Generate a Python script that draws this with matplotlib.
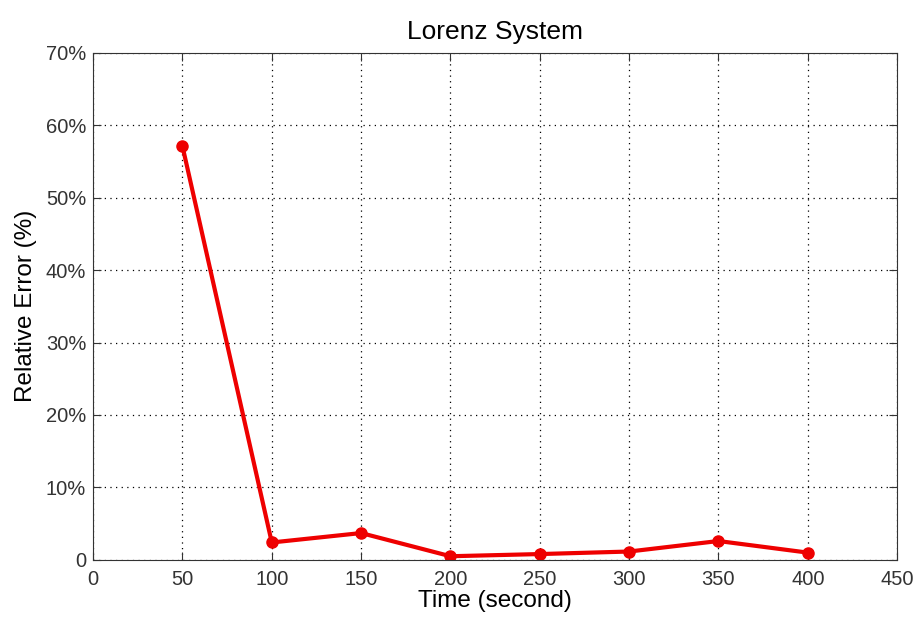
import numpy as np
import matplotlib.pyplot as plt
from matplotlib.ticker import FuncFormatter

plt.rcParams['font.family'] = ['Liberation Sans', 'DejaVu Sans']

time_s = [50, 100, 150, 200, 250, 300, 350, 400]
rel_err = [57.1, 2.4, 3.7, 0.5, 0.8, 1.15, 2.6, 1.0]

fig = plt.figure(figsize=(9.22, 6.2), dpi=100)
ax = fig.add_axes([0.101, 0.097, 0.872, 0.818])

ax.plot(time_s, rel_err, color='#ee0000', linewidth=3, marker='o', markersize=8)

ax.set_xlim(0, 450)
ax.set_ylim(0, 70)
ax.set_xticks(np.arange(0, 451, 50))
ax.set_yticks(np.arange(0, 71, 10))
ax.yaxis.set_major_formatter(FuncFormatter(lambda v, p: '0' if v == 0 else f'{v:.0f}%'))
ax.tick_params(direction='in', labelsize=14.5, length=6, top=True, right=True,
               colors='#333333', pad=5)
ax.tick_params(axis='x', pad=7)
for s in ax.spines.values():
    s.set_color('#333333')
ax.grid(True, linestyle=(0, (1, 3.5)), color='black', linewidth=0.9)

ax.set_xlabel('Time (second)', fontsize=17.5, labelpad=1)
ax.set_ylabel('Relative Error (%)', fontsize=17.5, labelpad=6)
ax.set_title('Lorenz System', fontsize=19, pad=10)

fig.savefig('out.png', dpi=100)
